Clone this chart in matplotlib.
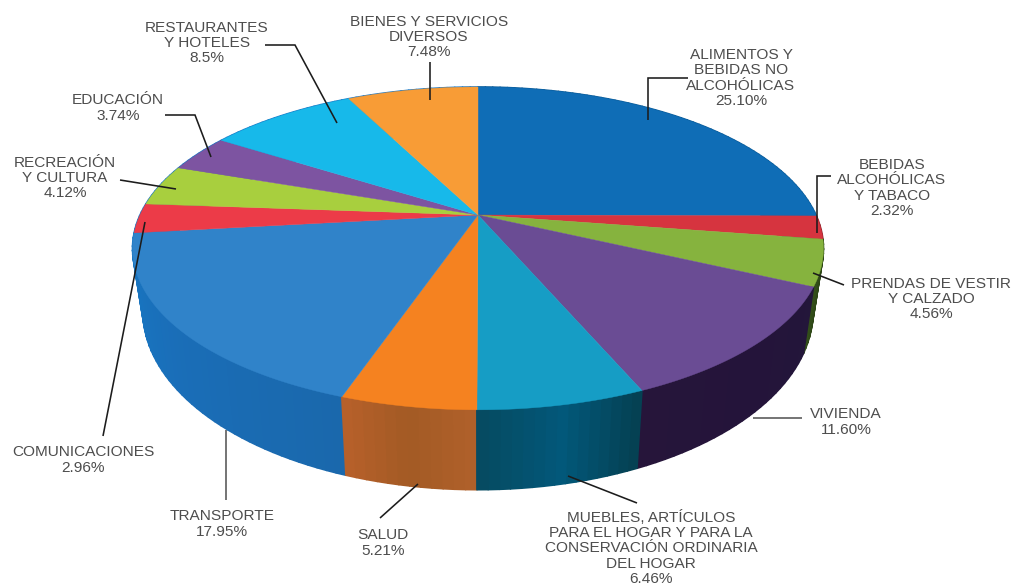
import numpy as np
import matplotlib
matplotlib.use('Agg')
import matplotlib.pyplot as plt
from matplotlib.collections import PolyCollection
from matplotlib.colors import to_rgb
from matplotlib.patches import Polygon

# Budget shares, clockwise from twelve o'clock
categories = [
    'ALIMENTOS Y\nBEBIDAS NO\nALCOHÓLICAS',
    'BEBIDAS\nALCOHÓLICAS\nY TABACO',
    'PRENDAS DE VESTIR\nY CALZADO',
    'VIVIENDA',
    'MUEBLES, ARTÍCULOS\nPARA EL HOGAR Y PARA LA\nCONSERVACIÓN ORDINARIA\nDEL HOGAR',
    'SALUD',
    'TRANSPORTE',
    'COMUNICACIONES',
    'RECREACIÓN\nY CULTURA',
    'EDUCACIÓN',
    'RESTAURANTES\nY HOTELES',
    'BIENES Y SERVICIOS\nDIVERSOS',
]
values = [25.10, 2.32, 4.56, 11.60, 6.46, 5.21, 17.95, 2.96, 4.12, 3.74, 8.5, 7.48]
value_labels = ['25.10%', '2.32%', '4.56%', '11.60%', '6.46%', '5.21%',
                '17.95%', '2.96%', '4.12%', '3.74%', '8.5%', '7.48%']

top_colors = ['#0F6DB6', '#D6343F', '#86B33E', '#6A4C94', '#169DC5', '#F58220',
              '#3083C9', '#EC3B48', '#A8CF3E', '#7D54A1', '#17B9EA', '#F89C36']
# left / middle / right shade of each wall
side_colors = [
    ('#0A5A96', '#0A5A96', '#0A5A96'),
    ('#8A2028', '#8A2028', '#8A2028'),
    ('#34501A', '#2C4516', '#263C12'),
    ('#26153A', '#24143A', '#23163A'),
    ('#064A60', '#02587A', '#053F50'),
    ('#B8602A', '#A35A24', '#B0602A'),
    ('#1778C4', '#1A6EB8', '#1A68AC'),
    ('#1776C4', '#1776C4', '#1776C4'),
    ('#1776C4', '#1776C4', '#1776C4'),
    ('#1776C4', '#1776C4', '#1776C4'),
    ('#1776C4', '#1776C4', '#1776C4'),
    ('#1776C4', '#1776C4', '#1776C4'),
]

# text centres in pixels
label_x = [741, 892, 931, 846, 651, 383, 222, 83, 65, 118, 207, 429]
label_y = [78, 188, 299, 422, 548, 543, 524, 460, 178, 108, 43, 37]

leaders = [
    ([688, 648, 648], [78, 78, 120]),
    ([831, 817, 817], [176, 176, 233]),
    ([813, 844], [273, 285]),
    ([753, 802], [418, 418]),
    ([568, 637], [476, 503]),
    ([418, 380], [484, 518]),
    ([226, 226], [430, 500]),
    ([145, 103], [222, 436]),
    ([120, 176], [180, 189]),
    ([165, 195, 211], [115, 115, 157]),
    ([265, 295, 337], [45, 45, 123]),
    ([430, 430], [62, 100]),
]

# Perspective pie disc
CX, CY = 478.0, 215.0
RX, RY = 338.0, 154.5
PERSP = 0.207


def projectTop(theta):
    """Map clockwise angles from the top onto the tilted disc."""
    u, v = np.sin(theta), np.cos(theta)
    s = 1.0 / (1.0 + PERSP * v)
    return CX + RX * u * s, CY - RY * v * s


def projectBottom(theta):
    """Same rim for the lower face of the disc."""
    x, y = projectTop(theta)
    return CX + 0.97 * (x - CX), 1.108 * y + 35.6


def shade(stops, t):
    """Interpolate across the three shades of a wall, t in 0..1."""
    c = [np.array(to_rgb(s)) for s in stops]
    if t < 0.5:
        return c[0] + (c[1] - c[0]) * t * 2
    return c[1] + (c[2] - c[1]) * (t - 0.5) * 2


plt.rcParams['font.family'] = ['Liberation Sans', 'DejaVu Sans']
fig = plt.figure(figsize=(10.13, 5.85), dpi=100)
ax = fig.add_axes([0, 0, 1, 1])
ax.set_xlim(0, 1013)
ax.set_ylim(585, 0)
ax.axis('off')

edges = np.cumsum([0] + values) / sum(values) * 2 * np.pi

# Walls: back to front so the nearer strips cover the farther ones
quads, quad_colors, quad_depth = [], [], []
for i in range(len(values)):
    n = max(4, int(np.degrees(edges[i + 1] - edges[i]) / 1.5))
    steps = np.linspace(edges[i], edges[i + 1], n + 1)
    for j in range(n):
        a, b = steps[j], steps[j + 1]
        xa, ya = projectTop(a)
        xb, yb = projectTop(b)
        xc, yc = projectBottom(b)
        xd, yd = projectBottom(a)
        quads.append([(xa, ya), (xb, yb), (xc, yc), (xd, yd)])
        # walls run right to left along the front, so flip t
        quad_colors.append(shade(side_colors[i], 1 - (j + 0.5) / n))
        quad_depth.append(np.cos((a + b) / 2))
order = np.argsort(quad_depth)[::-1]
walls = PolyCollection([quads[k] for k in order],
                       facecolors=[quad_colors[k] for k in order],
                       edgecolors=[quad_colors[k] for k in order],
                       linewidths=1.2, zorder=1)
ax.add_collection(walls)

# Top face slices
for i in range(len(values)):
    theta = np.linspace(edges[i], edges[i + 1], 80)
    x, y = projectTop(theta)
    pts = np.column_stack([np.r_[CX, x], np.r_[CY, y]])
    ax.add_patch(Polygon(pts, closed=True, facecolor=top_colors[i],
                         edgecolor=top_colors[i], linewidth=0.3, zorder=2))

for i, (lx, ly) in enumerate(leaders):
    line_color = '#555555' if categories[i] in ('VIVIENDA', 'TRANSPORTE') else '#1c1c1c'
    ax.plot(lx, ly, color=line_color, linewidth=1.15, solid_capstyle='butt',
            solid_joinstyle='miter', zorder=3)

for i in range(len(values)):
    ax.text(label_x[i], label_y[i], categories[i] + '\n' + value_labels[i],
            ha='center', va='center', multialignment='center', fontsize=11.1,
            linespacing=1.1, color='#4d4d4d', zorder=4)

fig.savefig('out.png', dpi=100, facecolor='white')
